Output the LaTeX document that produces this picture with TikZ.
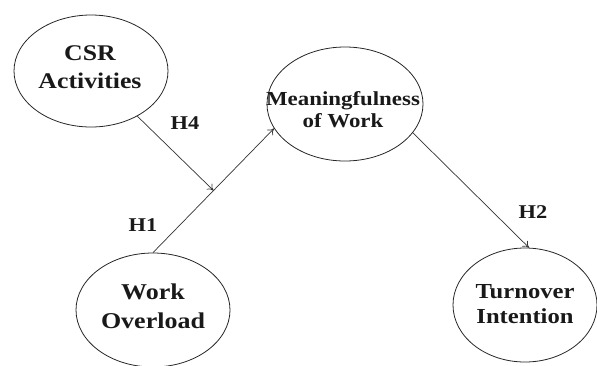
\documentclass[tikz,border=0pt]{standalone}
\usepackage{fontspec}
\setmainfont[FakeStretch=1.15]{Liberation Serif}
\usetikzlibrary{shapes.geometric,calc,arrows.meta}
\begin{document}
\begin{tikzpicture}[x=1pt,y=-1pt,
  oval/.style={draw=black!85,line width=0.8pt,ellipse,inner sep=0pt},
  lbl/.style 2 args={font=\bfseries\fontsize{#1}{#2}\selectfont,align=center,inner sep=0pt,text=black!90},
  conn/.style={draw=black!80,line width=0.7pt,-{To[length=6pt,width=8pt]}},
  hyp/.style={font=\bfseries\fontsize{19.5}{19.5}\selectfont,inner sep=0pt,text=black!90}]
\useasboundingbox (0,0) rectangle (597,365);
\node[oval,minimum width=154pt,minimum height=112pt] (csr) at (91,71) {};
\node[oval,minimum width=156pt,minimum height=114pt] (mw) at (345,104) {};
\node[oval,minimum width=144pt,minimum height=114pt] (ti) at (525,305) {};
\node[oval,minimum width=154pt,minimum height=114pt] (wo) at (153,310) {};
\node[lbl={22.4}{28}] (csrT) at (90,67) {CSR\\Activities};
\node[lbl={19.9}{22}] (mwT) at (343,110) {Meaningfulness\\of Work};
\node[lbl={21.4}{25}] (tiT) at (525,304) {Turnover\\Intention};
\node[lbl={22.6}{29}] (woT) at (153,306) {Work\\Overload};
\coordinate (j) at ($(wo.north)!0.5!(mw.199)$);
\draw[conn] (wo.north) -- (mw.199);
\draw[conn] (csr) -- (j);
\draw[conn] (mw.-23) -- (ti.86);
\node[hyp] (h4) at (185,123) {H4};
\node[hyp] (h1) at (143,225) {H1};
\node[hyp] (h2) at (533,212) {H2};
\end{tikzpicture}
\end{document}
